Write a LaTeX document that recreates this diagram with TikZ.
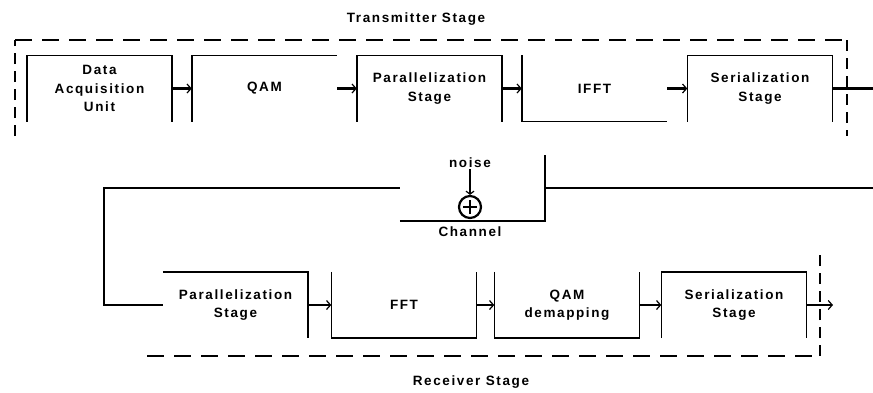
\documentclass[tikz,border=0pt]{standalone}
\usepackage{fontspec}
\setmainfont{Liberation Sans}[LetterSpace=12]
\usetikzlibrary{arrows.meta}
\newcommand{\lblfont}{\fontsize{13.5}{18.5}\selectfont\bfseries}
\begin{document}
\begin{tikzpicture}[x=1pt,y=-1pt,
  box/.style={minimum width=145pt, minimum height=66pt, inner sep=0pt, font=\lblfont, align=center},
  side/.style={line width=1.5pt},
  conn/.style={line width=2.9pt},
  arr/.style={conn, -{Straight Barb[line width=1.2pt,length=4pt,width=9pt]}},
  hdash/.style={line width=1.2pt, dash pattern=on 17pt off 10pt},
  vdash/.style={line width=1.2pt, dash pattern=on 11pt off 7pt},
  lbl/.style={font=\lblfont, inner sep=0pt}
]
\useasboundingbox (0,0) rectangle (873,392);

% ---------- Transmitter ----------
\node[lbl] (tx) at (416,19) {Transmitter Stage};
\draw[vdash] (15,136) -- (15,40);
\draw[hdash] (15,40) -- (847,40);
\draw[vdash] (847,40) -- (847,136);

\node[box] (t1) at (99.5,88.5) {Data\\Acquisition\\Unit};
\node[box] (t2) at (264.5,88.5) {QAM};
\node[box] (t3) at (429.5,88.5) {Parallelization\\Stage};
\node[box] (t4) at (594.5,88.5) {IFFT};
\node[box] (t5) at (760,88.5) {Serialization\\Stage};

\draw[side] (t1.south west) -- (t1.north west) -- (t1.north east) -- (t1.south east);
\draw[side] (t2.south west) -- (t2.north west) -- (t2.north east);
\draw[side] (t3.south west) -- (t3.north west) -- (t3.north east) -- (t3.south east);
\draw[side] (t4.north west) -- (t4.south west) -- (t4.south east);
\draw[side] (t5.south west) -- (t5.north west) -- (t5.north east) -- (t5.south east);

\draw[arr] (t1.east) -- (t2.west);
\draw[arr] (t2.east) -- (t3.west);
\draw[arr] (t3.east) -- (t4.west);
\draw[arr] (t4.east) -- (t5.west);
\coordinate (outT) at (873,88.5);
\draw[conn] (t5.east) -- (outT);

% ---------- Channel ----------
\node[minimum width=145pt, minimum height=66pt, inner sep=0pt] (ch) at (472.5,188) {};
\draw[side] (ch.south west) -- (ch.south east) -- (ch.north east);
\node[lbl] (chl) at (470,232) {Channel};
\node[lbl] (noise) at (470,163) {noise};
\node[circle, draw, line width=2.2pt, minimum size=22pt, inner sep=0pt] (sum) at (470,207) {};
\draw[line width=2.4pt] ([xshift=-7pt]sum.center) -- ([xshift=7pt]sum.center);
\draw[line width=2.4pt] ([yshift=-7pt]sum.center) -- ([yshift=7pt]sum.center);
\draw[conn, -{Straight Barb[line width=1.2pt,length=3pt,width=8pt]}] ([yshift=-1pt]noise.south) -- (sum.north);

\coordinate (inC) at (873,188);
\draw[conn] (inC) -- (ch.east);
\coordinate (bend) at (104,188);

% ---------- Receiver ----------
\node[box] (r1) at (235.5,305) {Parallelization\\Stage};
\node[box] (r2) at (404,305) {FFT};
\node[box] (r3) at (567,305) {QAM\\demapping};
\node[box] (r4) at (734,305) {Serialization\\Stage};

\draw[side] (r1.north west) -- (r1.north east) -- (r1.south east);
\draw[side] (r2.north west) -- (r2.south west) -- (r2.south east) -- (r2.north east);
\draw[side] (r3.north west) -- (r3.south west) -- (r3.south east) -- (r3.north east);
\draw[side] (r4.south west) -- (r4.north west) -- (r4.north east) -- (r4.south east);

\draw[conn] (ch.west) -- (bend) |- (r1.west);
\draw[arr] (r1.east) -- (r2.west);
\draw[arr] (r2.east) -- (r3.west);
\draw[arr] (r3.east) -- (r4.west);
\coordinate (outR) at (833,305);
\draw[arr] (r4.east) -- (outR);

\draw[hdash] (147,356) -- (820,356);
\draw[vdash] (820,356) -- (820,255);
\node[lbl] (rx) at (471,382) {Receiver Stage};
\end{tikzpicture}
\end{document}
